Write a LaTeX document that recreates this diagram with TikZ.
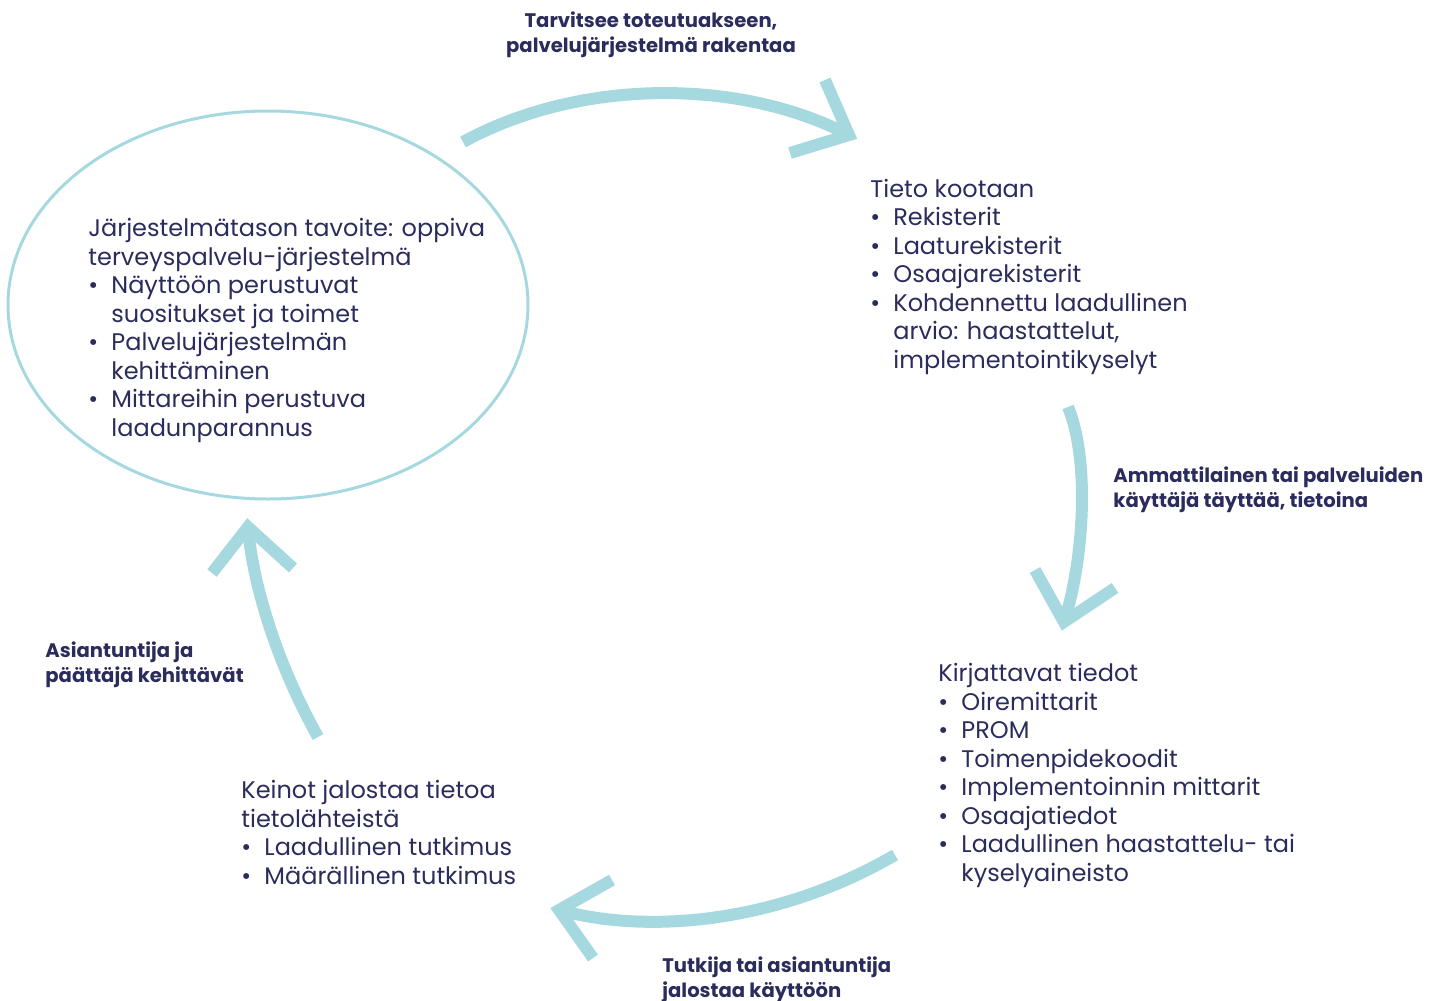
\documentclass[tikz,border=0pt]{standalone}
\usepackage{fontspec}
\setmainfont{Poppins}
\definecolor{navy}{HTML}{2A2C5C}
\definecolor{teal}{HTML}{A6D8DF}
\newcommand{\bl}[1]{\makebox[11.5pt][l]{\textbullet}#1}
\newcommand{\ct}[1]{\hspace*{11.5pt}#1}
\begin{document}
\begin{tikzpicture}[x=0.5pt,y=-0.5pt,
  body/.style={inner sep=0pt, anchor=base west, align=left, text=navy,
    font=\fontsize{12}{14.25}\selectfont},
  lbl/.style={inner sep=0pt, anchor=base west, align=left, text=navy,
    font=\bfseries\fontsize{9.8}{12.3}\selectfont},
  flow/.style={draw=teal, line width=6pt},
  head/.style={draw=teal, line width=6pt, miter limit=10}]
\useasboundingbox (0,0) rectangle (1440,1001);
% ellipse
\draw[teal, line width=1.5pt] (268,305) ellipse [x radius=260, y radius=194];
% text blocks (anchored at the baseline of their last line)
\node[body] (goal) at (88,436) {J\"arjestelm\"atason tavoite: oppiva\\terveyspalvelu-j\"arjestelm\"a\\
\bl{N\"aytt\"o\"on perustuvat}\\\ct{suositukset ja toimet}\\\bl{Palveluj\"arjestelm\"an}\\\ct{kehitt\"aminen}\\
\bl{Mittareihin perustuva}\\\ct{laadunparannus}};
\node[body] (collect) at (870,368) {Tieto kootaan\\\bl{Rekisterit}\\\bl{Laaturekisterit}\\\bl{Osaajarekisterit}\\
\bl{Kohdennettu laadullinen}\\\ct{arvio: haastattelut,}\\\ct{implementointikyselyt}};
\node[body] (record) at (938,881) {Kirjattavat tiedot\\\bl{Oiremittarit}\\\bl{PROM}\\\bl{Toimenpidekoodit}\\
\bl{Implementoinnin mittarit}\\\bl{Osaajatiedot}\\\bl{Laadullinen haastattelu- tai}\\\ct{kyselyaineisto}};
\node[body] (refine) at (241,884) {Keinot jalostaa tietoa\\tietol\"ahteist\"a\\\bl{Laadullinen tutkimus}\\\bl{M\"a\"arällinen tutkimus}};
% labels
\node[lbl, anchor=base, align=center] (l1) at (651,52) {Tarvitsee toteutuakseen,\\palveluj\"arjestelm\"a rakentaa};
\node[lbl] (l2) at (1113,507) {Ammattilainen tai palveluiden\\k\"aytt\"aj\"a t\"aytt\"a\"a, tietoina};
\node[lbl] (l3) at (662,997) {Tutkija tai asiantuntija\\jalostaa k\"aytt\"o\"on};
\node[lbl] (l4) at (45,682) {Asiantuntija ja\\p\"a\"att\"aj\"a kehitt\"av\"at};
% arrow 1
\coordinate (a1s) at (463,142); \coordinate (a1t) at (849,135);
\coordinate (a1u) at (825,80); \coordinate (a1d) at (790,153);
\draw[flow] (a1s) .. controls (580,78) and (740,78) .. (a1t);
\draw[head] (a1u) -- (a1t) -- (a1d);
% arrow 2
\coordinate (a2s) at (1068,407); \coordinate (a2t) at (1064,622);
\coordinate (a2u) at (1035,570); \coordinate (a2d) at (1115,588);
\draw[flow] (a2s) .. controls (1090,460) and (1084,560) .. (a2t);
\draw[head] (a2u) -- (a2t) -- (a2d);
% arrow 3
\coordinate (a3s) at (895,855); \coordinate (a3t) at (559,910);
\coordinate (a3u) at (612,880); \coordinate (a3d) at (593,958);
\draw[flow] (a3s) .. controls (780,922) and (650,935) .. (a3t);
\draw[head] (a3u) -- (a3t) -- (a3d);
% arrow 4
\coordinate (a4s) at (318,737); \coordinate (a4t) at (248,527);
\coordinate (a4u) at (212,573); \coordinate (a4d) at (293,568);
\draw[flow] (a4s) .. controls (275,660) and (252,580) .. (a4t);
\draw[head] (a4u) -- (a4t) -- (a4d);
\end{tikzpicture}
\end{document}
